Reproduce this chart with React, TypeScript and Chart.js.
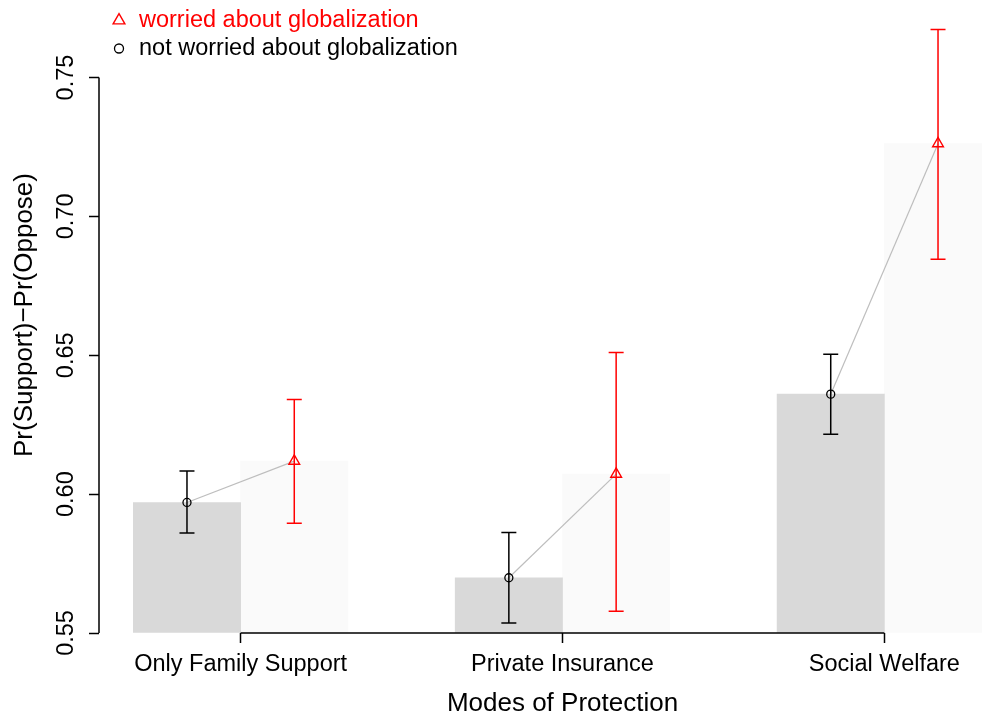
import React, { useEffect, useRef } from "react";
import { Chart, registerables } from "chart.js";

Chart.register(...registerables);

const FONT = "'Liberation Sans', Arial, Helvetica, sans-serif";

const CATEGORIES = ["Only Family Support", "Private Insurance", "Social Welfare"];
const SERIES = ["worried about globalization", "not worried about globalization"];
const X_TITLE = "Modes of Protection";
const Y_TITLE = "Pr(Support)\u2212Pr(Oppose)";

// not worried about globalization
const NOT_WORRIED = [0.597, 0.5699, 0.636];
const NOT_WORRIED_LOW = [0.586, 0.5536, 0.6216];
const NOT_WORRIED_HIGH = [0.6083, 0.5862, 0.6504];
// worried about globalization
const WORRIED = [0.6119, 0.6072, 0.7262];
const WORRIED_LOW = [0.5895, 0.5578, 0.6846];
const WORRIED_HIGH = [0.6341, 0.651, 0.7673];

// bar-unit positions (R barplot, beside = TRUE, space = c(0, 1))
const NOT_WORRIED_X = [1.5, 4.5, 7.5];
const WORRIED_X = [2.5, 5.5, 8.5];
const CATEGORY_TICKS = [2, 5, 8];
const Y_TICKS = [0.55, 0.6, 0.65, 0.7, 0.75];
const X_RANGE = [0.68, 9.32];
const Y_RANGE = [0.55, 0.779];

const pts = (xs: number[], ys: number[]) => xs.map((x, i) => ({ x, y: ys[i] }));

const rAxesPlugin = {
  id: "rAxes",
  afterDatasetsDraw(chart: any) {
    const { ctx, chartArea, scales } = chart;
    const x = scales.x;
    const y = scales.y;
    ctx.save();
    ctx.strokeStyle = "#000";
    ctx.lineWidth = 1.5;
    ctx.beginPath();
    ctx.moveTo(x.getPixelForValue(CATEGORY_TICKS[0]), chartArea.bottom);
    ctx.lineTo(x.getPixelForValue(CATEGORY_TICKS[CATEGORY_TICKS.length - 1]), chartArea.bottom);
    ctx.moveTo(chartArea.left, y.getPixelForValue(Y_TICKS[0]));
    ctx.lineTo(chartArea.left, y.getPixelForValue(Y_TICKS[Y_TICKS.length - 1]));
    ctx.stroke();
    ctx.restore();
  },
};

const errorBarPlugin = {
  id: "errorBars",
  afterDatasetsDraw(chart: any) {
    const { ctx, scales } = chart;
    const x = scales.x;
    const y = scales.y;
    const cap = 7.5;
    const draw = (xs: number[], lo: number[], hi: number[], color: string) => {
      ctx.save();
      ctx.strokeStyle = color;
      ctx.lineWidth = 1.5;
      xs.forEach((xv, i) => {
        const px = x.getPixelForValue(xv);
        const pl = y.getPixelForValue(lo[i]);
        const ph = y.getPixelForValue(hi[i]);
        ctx.beginPath();
        ctx.moveTo(px, pl);
        ctx.lineTo(px, ph);
        ctx.moveTo(px - cap, pl);
        ctx.lineTo(px + cap, pl);
        ctx.moveTo(px - cap, ph);
        ctx.lineTo(px + cap, ph);
        ctx.stroke();
      });
      ctx.restore();
    };
    draw(NOT_WORRIED_X, NOT_WORRIED_LOW, NOT_WORRIED_HIGH, "#000000");
    draw(WORRIED_X, WORRIED_LOW, WORRIED_HIGH, "#FF0000");
  },
};

const legendPlugin = {
  id: "rLegend",
  afterDraw(chart: any) {
    const { ctx, chartArea } = chart;
    const mx = chartArea.left + 20;
    const tx = chartArea.left + 40;
    ctx.save();
    ctx.font = `23.5px ${FONT}`;
    ctx.textBaseline = "alphabetic";
    ctx.textAlign = "left";
    // worried: open triangle
    const ty = chartArea.top + 23.5;
    const r = 6.8;
    ctx.strokeStyle = "#FF0000";
    ctx.lineWidth = 1.4;
    ctx.beginPath();
    ctx.moveTo(mx, ty - r);
    ctx.lineTo(mx + r * Math.sin((2 * Math.PI) / 3), ty + r * 0.5);
    ctx.lineTo(mx - r * Math.sin((2 * Math.PI) / 3), ty + r * 0.5);
    ctx.closePath();
    ctx.stroke();
    ctx.fillStyle = "#FF0000";
    ctx.fillText(SERIES[0], tx, chartArea.top + 30);
    // not worried: open circle
    const cy = chartArea.top + 51.5;
    ctx.strokeStyle = "#000000";
    ctx.lineWidth = 1.3;
    ctx.beginPath();
    ctx.arc(mx, cy, 4.5, 0, Math.PI * 2);
    ctx.stroke();
    ctx.fillStyle = "#000000";
    ctx.fillText(SERIES[1], tx, chartArea.top + 58);
    ctx.restore();
  },
};

export default function App() {
  const ref = useRef<HTMLCanvasElement>(null);

  useEffect(() => {
    if (!ref.current) return;
    const tickFont = { family: FONT, size: 23.5, lineHeight: 1 };
    const yTickFont = { family: FONT, size: 23.5, lineHeight: 0.01 };
    const titleFont = { family: FONT, size: 26, lineHeight: 1 };
    const grid = {
      display: true,
      drawOnChartArea: false,
      drawTicks: true,
      tickLength: 10,
      tickColor: "#000",
      tickWidth: 1.5,
      offset: false,
    };
    const links = NOT_WORRIED_X.map((xv, i) => ({
      type: "line" as const,
      data: [
        { x: xv, y: NOT_WORRIED[i] },
        { x: WORRIED_X[i], y: WORRIED[i] },
      ],
      borderColor: "#BEBEBE",
      borderWidth: 1.2,
      pointRadius: 0,
      fill: false,
      order: 3,
    }));

    const chart = new Chart(ref.current, {
      type: "bar",
      data: {
        datasets: [
          {
            type: "bar",
            label: SERIES[1],
            data: pts(NOT_WORRIED_X, NOT_WORRIED),
            backgroundColor: "#D9D9D9",
            borderWidth: 0,
            grouped: false,
            categoryPercentage: 1,
            barPercentage: 1,
            base: Y_RANGE[0],
            order: 5,
          },
          {
            type: "bar",
            label: SERIES[0],
            data: pts(WORRIED_X, WORRIED),
            backgroundColor: "#FAFAFA",
            borderWidth: 0,
            grouped: false,
            categoryPercentage: 1,
            barPercentage: 1,
            base: Y_RANGE[0],
            order: 5,
          },
          ...links,
          {
            type: "scatter",
            label: SERIES[1],
            data: pts(NOT_WORRIED_X, NOT_WORRIED),
            pointStyle: "circle",
            pointRadius: 4.0,
            pointBorderWidth: 1.3,
            pointBorderColor: "#000000",
            pointBackgroundColor: "rgba(0,0,0,0)",
            order: 1,
          },
          {
            type: "scatter",
            label: SERIES[0],
            data: pts(WORRIED_X, WORRIED),
            pointStyle: "triangle",
            pointRadius: 6.2,
            pointBorderWidth: 1.4,
            pointBorderColor: "#FF0000",
            pointBackgroundColor: "rgba(0,0,0,0)",
            order: 1,
          },
        ] as any,
      },
      options: {
        animation: false,
        responsive: true,
        maintainAspectRatio: false,
        layout: { autoPadding: false, padding: { left: 0, right: 3, top: 0, bottom: 0 } },
        plugins: {
          legend: { display: false },
          tooltip: { enabled: false },
        },
        scales: {
          x: {
            type: "linear",
            min: X_RANGE[0],
            max: X_RANGE[1],
            offset: false,
            afterBuildTicks: (s: any) => {
              s.ticks = CATEGORY_TICKS.map((v) => ({ value: v }));
            },
            afterFit: (s: any) => {
              s.height = 84;
              s.paddingLeft = 0;
              s.paddingRight = 0;
            },
            grid,
            border: { display: false },
            ticks: {
              color: "#000",
              font: tickFont,
              padding: 9.5,
              autoSkip: false,
              minRotation: 0,
              maxRotation: 0,
              callback: (v: any) => {
                const i = CATEGORY_TICKS.indexOf(Number(v));
                return i >= 0 ? CATEGORIES[i] : "";
              },
            },
            title: {
              display: true,
              text: X_TITLE,
              color: "#000",
              font: titleFont,
              padding: { top: 0, bottom: 0 },
            },
          },
          y: {
            type: "linear",
            min: Y_RANGE[0],
            max: Y_RANGE[1],
            afterBuildTicks: (s: any) => {
              s.ticks = Y_TICKS.map((v) => ({ value: v }));
            },
            afterFit: (s: any) => {
              s.width = 99;
              s.paddingTop = 0;
              s.paddingBottom = 0;
            },
            grid,
            border: { display: false },
            ticks: {
              color: "#000",
              font: yTickFont,
              padding: 0,
              minRotation: 90,
              maxRotation: 90,
              crossAlign: "center",
              autoSkip: false,
              callback: (v: any) => Number(v).toFixed(2),
            },
            title: {
              display: true,
              text: Y_TITLE,
              color: "#000",
              font: titleFont,
              padding: { top: 12, bottom: 0 },
            },
          },
        },
      } as any,
      plugins: [rAxesPlugin, errorBarPlugin, legendPlugin],
    });
    return () => chart.destroy();
  }, []);

  return (
    <div
      style={{
        position: "fixed",
        left: 0,
        top: 0,
        width: 982,
        height: 717,
        overflow: "hidden",
        background: "#ffffff",
      }}
    >
      <div style={{ position: "absolute", left: 0, top: -3, width: 1029, height: 720 }}>
        <canvas ref={ref} />
      </div>
    </div>
  );
}
